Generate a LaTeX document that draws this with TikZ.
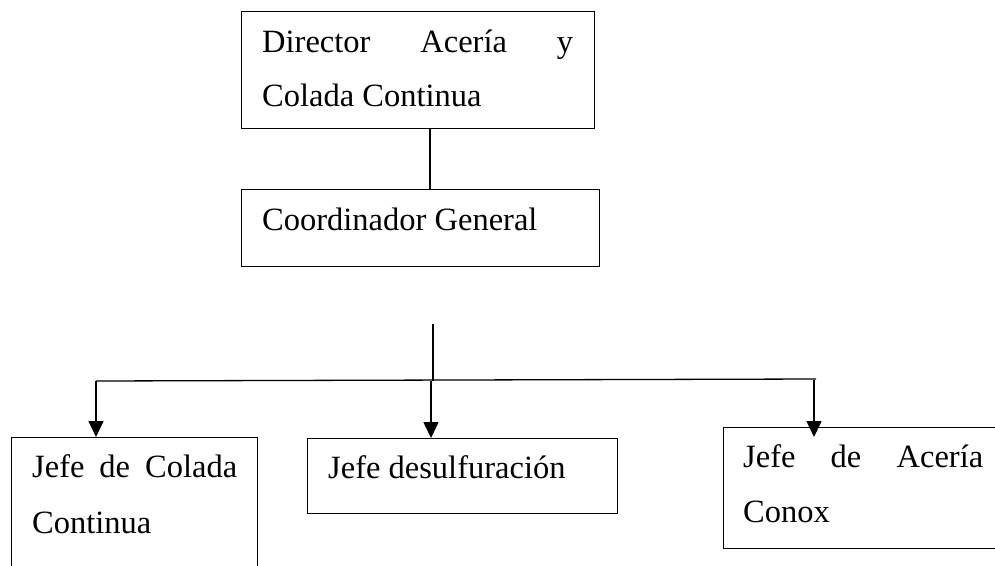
\documentclass[tikz,border=0pt]{standalone}
\usepackage{fontspec}
\setmainfont{Liberation Serif}
\usetikzlibrary{arrows.meta}
\begin{document}
\begin{tikzpicture}[x=1pt,y=-1pt,
  box/.style={draw,line width=1.3pt,inner sep=0pt,anchor=north west},
  txt/.style={anchor=base west,inner sep=0pt,font=\fontsize{32.5}{32.5}\selectfont},
  ln/.style={line width=1.3pt},
  arr/.style={line width=1.6pt,-{Triangle[width=15pt,length=16pt]}}]
\useasboundingbox (0,0) rectangle (995,565);
% boxes
\node[box,minimum width=353pt,minimum height=117pt] (dir) at (241,11) {};
\node[box,minimum width=358pt,minimum height=77pt] (coord) at (241,189) {};
\node[box,minimum width=246pt,minimum height=170pt] (b1) at (11,437) {};
\node[box,minimum width=310pt,minimum height=75pt] (b2) at (307,438) {};
\node[box,minimum width=300pt,minimum height=121pt] (b3) at (723,427) {};
% texts
\node[txt] (t1a) at (262,52) {\hbox to 311pt{Director\hfill Acería\hfill y}};
\node[txt] (t1b) at (262,106) {Colada Continua};
\node[txt] (t2) at (262,230) {Coordinador General};
\node[txt] (t3a) at (32,477) {\hbox to 205pt{Jefe\hfill de\hfill Colada}};
\node[txt] (t3b) at (32,533) {Continua};
\node[txt] (t4) at (328,478) {Jefe desulfuración};
\node[txt] (t5a) at (743,467) {\hbox to 240pt{Jefe\hfill de\hfill Acería}};
\node[txt] (t5b) at (743,522) {Conox};
% connectors
\coordinate (c1) at (430,0);
\draw[ln] (dir.south -| c1) -- (coord.north -| c1);
\coordinate (s1) at (433,324);
\coordinate (s2) at (433,381);
\draw[ln] (s1) -- (s2);
\coordinate (hl) at (96,381);
\coordinate (hr) at (816,379);
\draw[ln] (hl) -- (hr);
\coordinate (a3) at (814,437);
\draw[arr] (hl) -- (b1.north -| hl);
\draw[arr] (431,381) -- (b2.north -| 431,0);
\draw[arr] (814,380) -- (a3);
\end{tikzpicture}
\end{document}
